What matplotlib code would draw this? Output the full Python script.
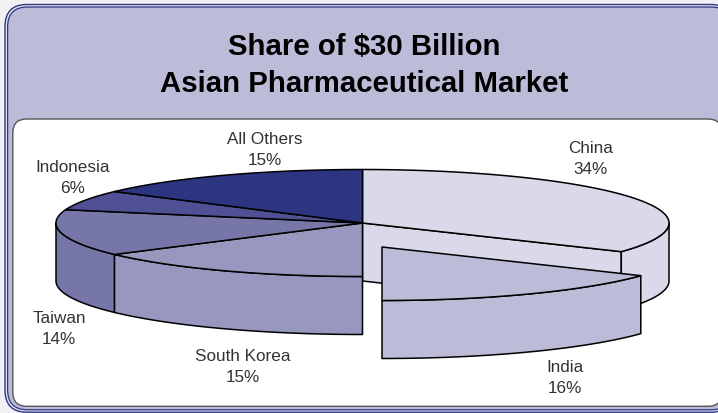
import numpy as np
import matplotlib
matplotlib.use("Agg")
import matplotlib.pyplot as plt
from matplotlib.patches import Polygon, FancyBboxPatch

# values, clockwise from 12 o'clock
names = ["China", "India", "South Korea", "Taiwan", "Indonesia", "All Others"]
shares = [34, 16, 15, 14, 6, 15]
colors = ["#d9d9e9", "#bcbcd9", "#9797bf", "#7676a8", "#505094", "#2d3580"]
title_lines = ["Share of $30 Billion", "Asian Pharmaceutical Market"]

W, H = 718, 414
cx, cy = 362.5, 224.0      # pie centre, pixels
rx, ry = 306.5, 53.5
depth = 58.0
explode = {"India": (19.5, 24.0)}

# where the labels sit, pixels
label_pos = {"China": (591, 159), "India": (565, 378), "South Korea": (243, 367),
             "Taiwan": (59, 329), "Indonesia": (73, 178), "All Others": (265, 150)}

narrow = ["Liberation Sans Narrow", "Liberation Sans", "DejaVu Sans"]
bold = ["Liberation Sans", "DejaVu Sans"]


def arc(a0, a1, dx=0.0, dy=0.0):
    t = np.radians(np.linspace(a0, a1, 200))
    return np.column_stack([cx + dx + rx * np.cos(t), cy + dy - ry * np.sin(t)])


def add(pts, color, z):
    ax.add_patch(Polygon(pts, closed=True, fc=color, ec="black", lw=1.1,
                         joinstyle="round", zorder=z))


def rounded(x0, y0, x1, y1, r, fc, ec, lw, z):
    ax.add_patch(FancyBboxPatch((x0 + r, y0 + r), x1 - x0 - 2 * r, y1 - y0 - 2 * r,
                                boxstyle=f"round,pad={r}", fc=fc, ec=ec, lw=lw, zorder=z))


fig = plt.figure(figsize=(W / 100, H / 100), dpi=100, facecolor="#f1f1f5")
ax = fig.add_axes([0, 0, 1, 1])
ax.set_xlim(0, W)
ax.set_ylim(H, 0)
ax.axis("off")

# double border frame and white panel, running off the right edge
rounded(5.0, 5.5, 733, 413.2, 22, "#e6e6f0", "#2d3580", 1.0, 1)
rounded(7.6, 8.0, 731, 410.8, 20, "#bcbcd9", "#2d3580", 0.9, 1.5)
rounded(12.8, 120, 722, 407.3, 14, "white", "#555555", 1.0, 2)

for i, line in enumerate(title_lines):
    ax.text(364, 47 + i * 37, line, family=bold, weight="bold", fontsize=21.2,
            ha="center", va="center", color="black", zorder=3)

# slice angles from the shares
edges = 90 - 3.6 * np.cumsum([0] + shares)
starts = dict(zip(names, edges[:-1]))
ends = dict(zip(names, edges[1:]))

# side walls, back to front
china_end = arc(ends["China"], ends["China"])[0]
add([(cx, cy), china_end, china_end + [0, depth], (cx, cy + depth)], colors[0], 4)
a = arc(0, ends["China"])
add(np.vstack([a, (a + [0, depth])[::-1]]), colors[0], 4)

a = arc(-180, ends["South Korea"])
add(np.vstack([a, (a + [0, depth])[::-1]]), colors[3], 4)

a = arc(starts["South Korea"], ends["South Korea"])
add(np.vstack([a, (a + [0, depth])[::-1]]), colors[2], 4)

# top faces
for n, c in zip(names, colors):
    if n == "India":
        continue
    add(np.vstack([[(cx, cy)], arc(starts[n], ends[n])]), c, 5)

# exploded slice on top of everything
dx, dy = explode["India"]
a = arc(starts["India"], ends["India"], dx, dy)
add(np.vstack([a, (a + [0, depth])[::-1]]), colors[1], 6)
add(np.vstack([[(cx + dx, cy + dy)], a]), colors[1], 7)

for n, s in zip(names, shares):
    x, y = label_pos[n]
    ax.text(x, y, f"{n}\n{s}%", family=narrow, fontsize=12.3, ha="center", va="center",
            color="#333333", linespacing=1.5, zorder=8)

fig.savefig("out.png", dpi=100, facecolor=fig.get_facecolor())
